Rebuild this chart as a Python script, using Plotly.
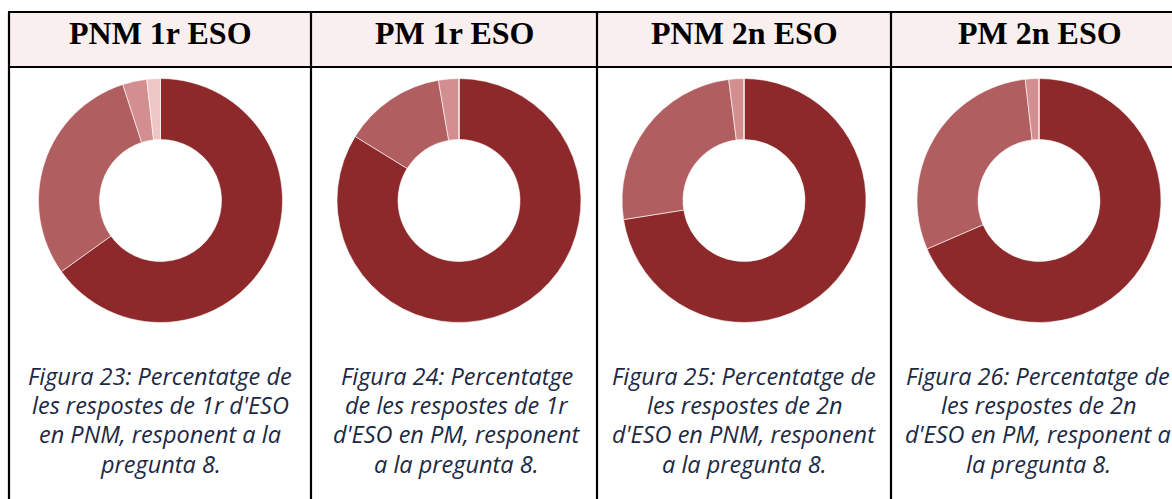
import plotly.graph_objects as go

W, H = 1172, 499

# ---- data ----
headers = ["PNM 1r ESO", "PM 1r ESO", "PNM 2n ESO", "PM 2n ESO"]
categories = ["Resposta 1", "Resposta 2", "Resposta 3", "Resposta 4"]
values_pnm_1r = [65.1, 29.9, 3.2, 1.8]
values_pm_1r = [83.8, 13.5, 2.7, 0.0]
values_pnm_2n = [72.5, 25.5, 2.0, 0.0]
values_pm_2n = [68.5, 29.7, 1.8, 0.0]
captions = [
    ["Figura 23: Percentatge de", "les respostes de 1r d'ESO", "en PNM, responent a la", "pregunta 8."],
    ["Figura 24: Percentatge", "de les respostes de 1r", "d'ESO en PM, responent", "a la pregunta 8."],
    ["Figura 25: Percentatge de", "les respostes de 2n", "d'ESO en PNM, responent", "a la pregunta 8."],
    ["Figura 26: Percentatge de", "les respostes de 2n", "d'ESO en PM, responent a", "la pregunta 8."],
]
series = [values_pnm_1r, values_pm_1r, values_pnm_2n, values_pm_2n]

# ---- style / layout ----
colors = ["#8E292B", "#B05E5F", "#D38E8F", "#EEC6C6"]
centers_x = [160.5, 459, 744, 1039]
center_y = 200.5
radius = 122
col_lines = [9, 311, 597, 891]
header_top, header_bot = 12, 67
header_cx = [160, 454, 744, 1040]
caption_y = [375.5, 405, 434, 463.5]
caption_cx = [160, 457, 744, 1038]

fig = go.Figure()
for i, vals in enumerate(series):
    cx = centers_x[i]
    fig.add_trace(go.Pie(
        labels=categories, values=vals, hole=0.5, sort=False,
        direction="clockwise", rotation=0,
        marker=dict(colors=colors, line=dict(color="white", width=0.6)),
        textinfo="none", hoverinfo="label+percent", showlegend=False,
        domain=dict(x=[(cx - radius) / W, (cx + radius) / W],
                    y=[1 - (center_y + radius) / H, 1 - (center_y - radius) / H]),
    ))

shapes = []
shapes.append(dict(type="rect", xref="paper", yref="paper",
                   x0=col_lines[0] / W, x1=1.0, y0=1 - header_bot / H, y1=1 - header_top / H,
                   fillcolor="#FAEFEF", line=dict(width=0), layer="below"))
for yy in (header_top, header_bot):
    shapes.append(dict(type="line", xref="paper", yref="paper",
                       x0=(col_lines[0] - 1) / W, x1=1.0, y0=1 - yy / H, y1=1 - yy / H,
                       line=dict(color="black", width=2.2)))
for xx in col_lines:
    shapes.append(dict(type="line", xref="paper", yref="paper",
                       x0=xx / W, x1=xx / W, y0=0, y1=1 - header_top / H,
                       line=dict(color="black", width=2.2)))

annotations = []
for i, h in enumerate(headers):
    annotations.append(dict(text=f"<b>{h}</b>", x=header_cx[i] / W,
                            y=1 - 33 / H, xref="paper", yref="paper", showarrow=False,
                            xanchor="center", yanchor="middle",
                            font=dict(family="Liberation Serif", size=32, color="black")))
for i, lines in enumerate(captions):
    for j, line in enumerate(lines):
        annotations.append(dict(text=f"<i>{line}</i>", x=caption_cx[i] / W, y=1 - caption_y[j] / H,
                                xref="paper", yref="paper", showarrow=False,
                                xanchor="center", yanchor="middle",
                                font=dict(family="Open Sans", size=23.5, color="#1C2944")))

fig.update_layout(width=W, height=H, margin=dict(l=0, r=0, t=0, b=0),
                  paper_bgcolor="white", plot_bgcolor="white",
                  shapes=shapes, annotations=annotations)
fig.write_html("out.html", config={"displayModeBar": False},
               post_script="document.body.style.margin='0';")
